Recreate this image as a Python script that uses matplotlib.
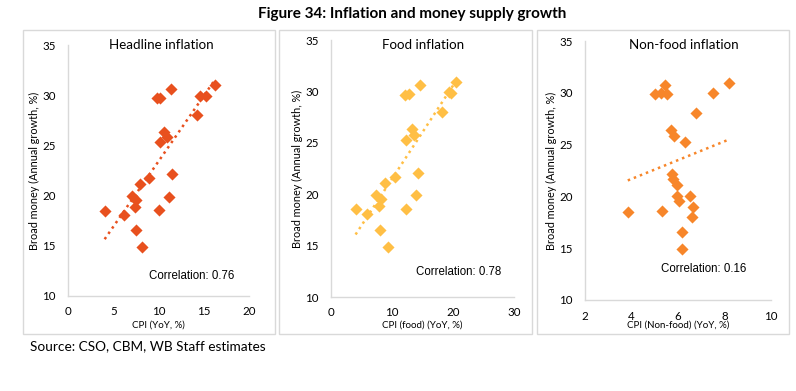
import matplotlib
matplotlib.use("Agg")
import matplotlib.pyplot as plt
from matplotlib.patches import Rectangle
import numpy as np

# ---- data ----
head_x = [4.05, 6.19, 7.03, 7.48, 7.40, 7.48, 8.21, 7.92, 8.91, 9.80, 10.17,
          10.02, 10.17, 10.64, 10.98, 11.42, 11.45, 11.20, 14.22, 14.59, 15.21, 16.28]
head_y = [18.5, 18.05, 19.97, 19.54, 18.88, 16.55, 14.85, 21.14, 21.74, 29.75, 29.71,
          18.54, 25.29, 26.36, 25.79, 30.64, 22.13, 19.87, 28.02, 29.88, 29.95, 31.01]

food_x = [4.03, 5.88, 7.40, 8.27, 7.89, 8.06, 9.31, 8.93, 10.56, 12.08, 12.79,
          12.30, 12.30, 13.28, 13.66, 14.53, 14.21, 13.88, 18.18, 19.32, 19.65, 20.47]
food_y = [18.54, 18.05, 19.94, 19.5, 18.9, 16.56, 14.87, 21.07, 21.69, 29.68, 29.71,
          18.54, 25.23, 26.3, 25.75, 30.62, 22.08, 19.9, 27.99, 29.9, 29.8, 30.88]

nonfood_x = [3.84, 5.00, 5.26, 5.42, 5.52, 5.30, 5.68, 5.81, 6.28, 6.78, 7.49,
             8.21, 5.74, 5.80, 5.94, 5.97, 6.04, 6.50, 6.64, 6.60, 6.17, 6.17]
nonfood_y = [18.53, 29.88, 30.01, 30.72, 29.85, 18.59, 26.38, 25.83, 25.28, 28.08, 29.98,
             30.98, 22.13, 21.71, 21.10, 20.04, 19.56, 20.04, 18.95, 18.04, 16.60, 14.89]

panel_titles = ["Headline inflation", "Food inflation", "Non-food inflation"]
x_labels = ["CPI (YoY, %)", "CPI (food) (YoY, %)", "CPI (Non-food) (YoY, %)"]
y_label = "Broad money (Annual growth, %)"
corr_labels = ["Correlation: 0.76", "Correlation: 0.78", "Correlation: 0.16"]
x_ticks = [[0, 5, 10, 15, 20], [0, 10, 20, 30], [2, 4, 6, 8, 10]]
y_ticks = [10, 15, 20, 25, 30, 35]

colors = ["#E8501E", "#FFBF45", "#F7862A"]

W, H = 796, 391
fig = plt.figure(figsize=(W / 100, H / 100), dpi=100)
calibri = ["Lato", "DejaVu Sans"]
arial = ["Liberation Sans", "DejaVu Sans"]

def px_axes(x0, y0, x1, y1):
    return fig.add_axes([x0 / W, 1 - y1 / H, (x1 - x0) / W, (y1 - y0) / H])

boxes = [(23, 30, 275, 334), (279, 30, 532, 334), (537, 30, 789, 334)]
for (bx0, by0, bx1, by1) in boxes:
    fig.patches.append(Rectangle((bx0 / W, 1 - by1 / H), (bx1 - bx0) / W, (by1 - by0) / H,
                                 transform=fig.transFigure, fill=False,
                                 edgecolor="#D9D9D9", linewidth=1.0))

ax_px = [(68, 45, 249, 296), (331, 40, 514, 297), (585, 41, 771, 300)]
data = [(head_x, head_y), (food_x, food_y), (nonfood_x, nonfood_y)]
corr_pos = [(192, 276), (459, 272), (704, 269)]
title_pos = [(161, 45), (423, 45), (684, 45)]
ylab_x = [34, 297, 551]
xlab_y = [325, 325, 325]
xtick_y = [312, 313, 317]

for i in range(3):
    ax = px_axes(*ax_px[i])
    xs, ys = np.array(data[i][0]), np.array(data[i][1])
    ax.scatter(xs, ys, marker="D", s=38, color=colors[i], linewidths=0, zorder=3)
    m, b = np.polyfit(xs, ys, 1)
    xl = np.array([xs.min(), xs.max()])
    ax.plot(xl, m * xl + b, linestyle=(0, (1, 1.6)), linewidth=1.8, color=colors[i], zorder=2)
    ax.set_xlim(x_ticks[i][0], x_ticks[i][-1])
    ax.set_ylim(10, 35)
    ax.set_xticks(x_ticks[i])
    ax.set_yticks(y_ticks)
    ax.tick_params(axis="y", length=0, labelsize=8.3, colors="#000000", pad=9)
    xpad = (xtick_y[i] - ax_px[i][3]) * 0.72 - 4.5
    ax.tick_params(axis="x", length=0, labelsize=8.3, colors="#000000", pad=xpad)
    for lab in ax.get_xticklabels() + ax.get_yticklabels():
        lab.set_family(calibri)
    for s in ["top", "right"]:
        ax.spines[s].set_visible(False)
    for s in ["left", "bottom"]:
        ax.spines[s].set_color("#D9D9D9")
        ax.spines[s].set_linewidth(1.0)
    ax.patch.set_alpha(0)
    fig.text(title_pos[i][0] / W, 1 - title_pos[i][1] / H, panel_titles[i],
             ha="center", va="center", fontsize=9.6, family=calibri)
    fig.text(corr_pos[i][0] / W, 1 - corr_pos[i][1] / H, corr_labels[i],
             ha="center", va="center", fontsize=8.3, family=arial)
    fig.text(ylab_x[i] / W, 1 - ((ax_px[i][1] + ax_px[i][3]) / 2) / H, y_label,
             rotation=90, ha="center", va="center", fontsize=7.8, family=calibri)
    fig.text(((ax_px[i][0] + ax_px[i][2]) / 2) / W, 1 - xlab_y[i] / H, x_labels[i],
             ha="center", va="center", fontsize=7.0, family=calibri)

fig.text(412 / W, 1 - 14 / H, "Figure 34: Inflation and money supply growth",
         ha="center", va="center", fontsize=11, fontweight="bold", family=calibri)
fig.text(30 / W, 1 - 346 / H, "Source: CSO, CBM, WB Staff estimates",
         ha="left", va="center", fontsize=9.8, family=calibri)

fig.savefig("out.png", dpi=100)
